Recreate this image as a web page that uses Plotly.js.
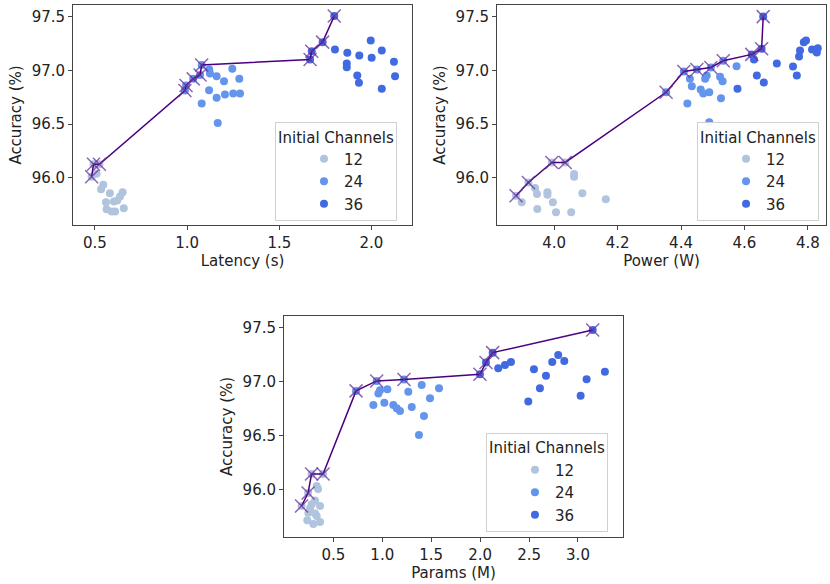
<!DOCTYPE html>
<html>
<head>
<meta charset="utf-8">
<script src="https://cdn.plot.ly/plotly-3.0.1.min.js"></script>
<style>html,body{margin:0;padding:0;background:#fff;}#chart{width:830px;height:584px;}</style>
</head>
<body>
<div id="chart"></div>
<script>
// ---------- Latency panel ----------
const lat12 = [0.482, 0.492, 0.524, 0.509, 0.545, 0.533, 0.581, 0.650, 0.636, 0.621, 0.603, 0.560, 0.656, 0.563, 0.591, 0.609];
const latAcc12 = [96.01, 96.126, 96.126, 96.037, 95.935, 95.894, 95.857, 95.866, 95.825, 95.788, 95.779, 95.773, 95.717, 95.707, 95.685, 95.685];
const lat24 = [0.988, 0.994, 1.033, 1.070, 1.079, 1.120, 1.124, 1.160, 1.200, 1.245, 1.283, 1.119, 1.160, 1.205, 1.250, 1.287, 1.079, 1.166];
const latAcc24 = [96.813, 96.86, 96.922, 96.958, 97.051, 97.009, 96.972, 96.947, 96.900, 97.016, 96.922, 96.816, 96.745, 96.776, 96.785, 96.785, 96.692, 96.511];
const lat36 = [1.667, 1.676, 1.735, 1.798, 1.802, 1.869, 1.934, 1.996, 2.056, 2.001, 1.866, 1.866, 2.122, 2.128, 1.923, 1.932, 2.056];
const latAcc36 = [97.103, 97.18, 97.264, 97.507, 97.196, 97.165, 97.140, 97.280, 97.187, 97.119, 97.065, 97.031, 97.081, 96.947, 96.953, 96.885, 96.829];
const latPareto = [0.482, 0.492, 0.524, 0.988, 0.994, 1.033, 1.070, 1.079, 1.667, 1.676, 1.735, 1.798];
const latParetoAcc = [96.01, 96.126, 96.126, 96.813, 96.86, 96.922, 96.958, 97.051, 97.103, 97.18, 97.264, 97.507];

// ---------- Power panel ----------
const pow12 = [3.880, 3.898, 3.919, 3.940, 3.946, 3.947, 3.979, 3.979, 3.996, 4.006, 4.054, 4.063, 4.063, 4.089, 4.163, 3.993, 4.035];
const powAcc12 = [95.832, 95.773, 95.956, 95.904, 95.850, 95.710, 95.866, 95.841, 95.773, 95.679, 95.679, 96.035, 96.009, 95.857, 95.801, 96.143, 96.143];
const pow24 = [4.353, 4.409, 4.450, 4.494, 4.533, 4.428, 4.434, 4.420, 4.462, 4.470, 4.489, 4.476, 4.481, 4.523, 4.531, 4.526, 4.489, 4.575];
const powAcc24 = [96.797, 96.991, 97.009, 97.028, 97.091, 96.922, 96.853, 96.692, 96.822, 96.785, 96.797, 96.922, 96.953, 96.941, 96.900, 96.741, 96.517, 97.040];
const pow36 = [4.623, 4.654, 4.659, 4.578, 4.630, 4.639, 4.661, 4.702, 4.753, 4.765, 4.772, 4.775, 4.787, 4.794, 4.813, 4.828, 4.831];
const powAcc36 = [97.150, 97.203, 97.502, 96.829, 97.103, 96.953, 96.888, 97.065, 97.037, 96.953, 97.131, 97.187, 97.262, 97.280, 97.196, 97.168, 97.206];
const powPareto = [3.880, 3.919, 3.993, 4.035, 4.353, 4.409, 4.450, 4.494, 4.533, 4.623, 4.654, 4.659];
const powParetoAcc = [95.832, 95.956, 96.143, 96.143, 96.797, 96.991, 97.009, 97.028, 97.091, 97.150, 97.203, 97.502];

// ---------- Params panel ----------
const par12 = [0.175, 0.242, 0.277, 0.395, 0.330, 0.344, 0.313, 0.364, 0.279, 0.313, 0.245, 0.234, 0.296, 0.364, 0.262, 0.330];
const parAcc12 = [95.852, 95.972, 96.148, 96.148, 96.037, 96.009, 95.903, 95.852, 95.868, 95.782, 95.790, 95.719, 95.685, 95.704, 95.830, 95.760];
const par24 = [0.732, 0.943, 1.222, 0.960, 0.977, 1.052, 0.909, 1.021, 1.113, 1.148, 1.181, 1.266, 1.301, 1.375, 1.403, 1.488, 1.426, 1.580];
const parAcc24 = [96.917, 97.009, 97.023, 96.892, 96.923, 96.932, 96.787, 96.808, 96.787, 96.756, 96.731, 96.910, 96.769, 96.509, 96.972, 96.849, 96.685, 96.942];
const par36 = [1.998, 2.060, 2.128, 3.150, 2.185, 2.254, 2.315, 2.550, 2.492, 2.611, 2.673, 2.737, 2.798, 2.860, 3.027, 3.088, 3.275];
const parAcc36 = [97.071, 97.179, 97.271, 97.481, 97.127, 97.157, 97.185, 97.118, 96.818, 96.942, 97.056, 97.185, 97.250, 97.194, 96.873, 97.025, 97.093];
const parPareto = [0.175, 0.242, 0.277, 0.395, 0.732, 0.943, 1.222, 1.998, 2.060, 2.128, 3.150];
const parParetoAcc = [95.852, 95.972, 96.148, 96.148, 96.917, 97.009, 97.023, 97.071, 97.179, 97.271, 97.481];

const channelNames = ['12', '24', '36'];
const channelColors = ['#b0c4de', '#6495ed', '#4169e1'];

const panels = [
  {xs: [lat12, lat24, lat36], ys: [latAcc12, latAcc24, latAcc36], px: latPareto, py: latParetoAcc, xa: 'x', ya: 'y', leg: 'legend'},
  {xs: [pow12, pow24, pow36], ys: [powAcc12, powAcc24, powAcc36], px: powPareto, py: powParetoAcc, xa: 'x2', ya: 'y2', leg: 'legend2'},
  {xs: [par12, par24, par36], ys: [parAcc12, parAcc24, parAcc36], px: parPareto, py: parParetoAcc, xa: 'x3', ya: 'y3', leg: 'legend3'}
];

const traces = [];
panels.forEach(p => {
  for (let i = 0; i < 3; i++) {
    traces.push({
      type: 'scatter', mode: 'markers', x: p.xs[i], y: p.ys[i], xaxis: p.xa, yaxis: p.ya,
      name: channelNames[i], legend: p.leg,
      marker: {color: channelColors[i], size: 8, line: {width: 0}}
    });
  }
  traces.push({
    type: 'scatter', mode: 'lines+markers', x: p.px, y: p.py, xaxis: p.xa, yaxis: p.ya,
    showlegend: false,
    line: {color: '#4b0082', width: 1.5},
    marker: {symbol: 'x-thin-open', size: 13, color: 'rgba(102,51,153,0.75)', line: {width: 1.5, color: 'rgba(102,51,153,0.75)'}}
  });
});

const font = {family: 'DejaVu Sans, sans-serif', size: 15, color: '#222'};
function xax(domain, range, ticks, title, anchor) {
  return {domain, range, tickvals: ticks, ticktext: ticks.map(v => v.toFixed(1)), anchor,
    showline: true, mirror: true, linecolor: '#444', linewidth: 1, ticks: 'outside', ticklen: 4, tickcolor: '#444',
    showgrid: false, zeroline: false, tickfont: font, title: {text: title, font: font, standoff: 4}};
}
function yax(domain, range, anchor) {
  const ticks = [96.0, 96.5, 97.0, 97.5];
  return {domain, range, tickvals: ticks, ticktext: ticks.map(v => v.toFixed(1)), anchor,
    showline: true, mirror: true, linecolor: '#444', linewidth: 1, ticks: 'outside', ticklen: 4, tickcolor: '#444',
    showgrid: false, zeroline: false, tickfont: font, title: {text: 'Accuracy (%)', font: font, standoff: 6}};
}
function leg(x, y) {
  return {x, y, xanchor: 'left', yanchor: 'top', bgcolor: 'rgba(255,255,255,0.9)', bordercolor: '#d0d0d0', borderwidth: 1,
    font: font, title: {text: 'Initial Channels', font: font, side: 'top center'}, indentation: 28, tracegroupgap: 0};
}

const layout = {
  width: 830, height: 584, margin: {l: 0, r: 0, t: 0, b: 0},
  paper_bgcolor: '#fff', plot_bgcolor: '#fff', font: font,
  xaxis: xax([0.0880, 0.4964], [0.381, 2.22], [0.5, 1.0, 1.5, 2.0], 'Latency (s)', 'y'),
  yaxis: yax([0.6147, 0.9914], [95.56, 97.61], 'x'),
  xaxis2: xax([0.5988, 0.9952], [3.82, 4.857], [4.0, 4.2, 4.4, 4.6, 4.8], 'Power (W)', 'y2'),
  yaxis2: yax([0.6147, 0.9914], [95.56, 97.61], 'x2'),
  xaxis3: xax([0.3422, 0.7506], [-0.004, 3.46], [0.5, 1.0, 1.5, 2.0, 2.5, 3.0], 'Params (M)', 'y3'),
  yaxis3: yax([0.0805, 0.4589], [95.565, 97.61], 'x3'),
  legend: leg(0.3313, 0.791),
  legend2: leg(0.8398, 0.791),
  legend3: leg(0.5855, 0.2586)
};

Plotly.newPlot('chart', traces, layout, {displayModeBar: false, staticPlot: true});
</script>
</body>
</html>
